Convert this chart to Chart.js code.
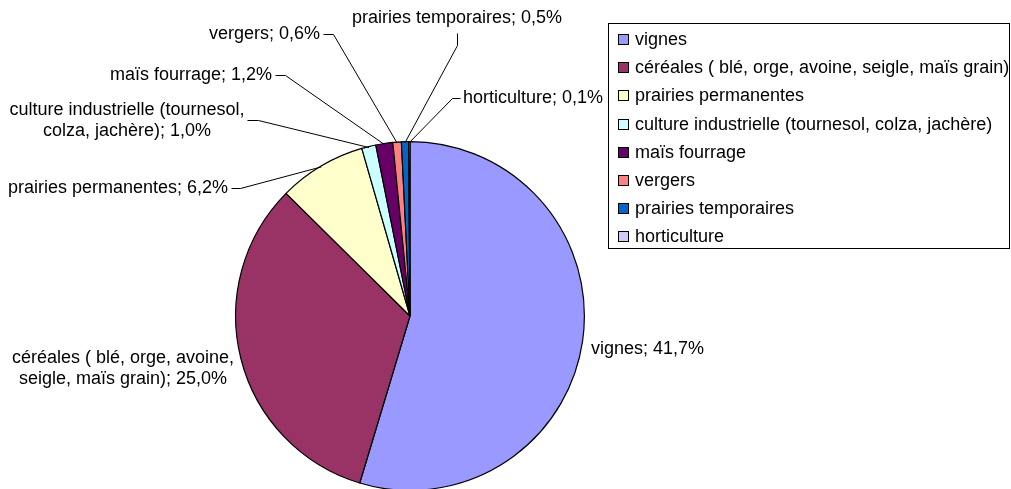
<!DOCTYPE html>
<html>
<head>
<meta charset="utf-8">
<script src="https://cdn.jsdelivr.net/npm/chart.js@4.4.1/dist/chart.umd.min.js"></script>
<style>
html,body{margin:0;padding:0;background:#fff;overflow:hidden;}
canvas{display:block;}
</style>
</head>
<body>
<canvas id="c" width="1011" height="495"></canvas>
<script>
// ---- data ----
const categories = ["vignes", "céréales ( blé, orge, avoine, seigle, maïs grain)", "prairies permanentes", "culture industrielle (tournesol, colza, jachère)", "maïs fourrage", "vergers", "prairies temporaires", "horticulture"];
const values = [41.7, 25.0, 6.2, 1.0, 1.2, 0.6, 0.5, 0.1];
const valueLabels = ["41,7%", "25,0%", "6,2%", "1,0%", "1,2%", "0,6%", "0,5%", "0,1%"];
const labelLines = [
  ["vignes; 41,7%"],
  ["céréales ( blé, orge, avoine,", "seigle, maïs grain); 25,0%"],
  ["prairies permanentes; 6,2%"],
  ["culture industrielle (tournesol,", "colza, jachère); 1,0%"],
  ["maïs fourrage; 1,2%"],
  ["vergers; 0,6%"],
  ["prairies temporaires; 0,5%"],
  ["horticulture; 0,1%"]
];
const colors = ["#9999FF", "#993366", "#FFFFCC", "#CCFFFF", "#660066", "#FF8080", "#0066CC", "#CCCCFF"];

// ---- label layout (relative to pie centre) ----
// text: [dx, dy, align], leader: [startDx, startDy, elbowDx, elbowDy] or null
const labelLayout = [
  {text:[181, 33, "left"], leader:null},
  {text:[-287, 42, "center"], leader:null},
  {text:[-182, -128, "right"], leader:[-179,-128,-170,-128]},
  {text:[-283, -206, "center"], leader:[-163,-196,-152,-196]},
  {text:[-138, -241, "right"], leader:[-135,-241,-125,-241]},
  {text:[-90, -282, "right"], leader:[-87,-282,-77,-282]},
  {text:[47, -298, "center"], leader:[47,-283,47,-271]},
  {text:[53, -218, "left"], leader:[50,-218,42,-218]}
];
const FONT = '18px "Liberation Sans", Arial, sans-serif';
const LINE_H = 21;

const labelPlugin = {
  id: 'labels',
  afterDraw(chart) {
    const ctx = chart.ctx;
    const meta = chart.getDatasetMeta(0);
    ctx.save();
    ctx.font = FONT;
    ctx.fillStyle = '#000';
    ctx.strokeStyle = '#000';
    ctx.lineWidth = 1;
    ctx.textBaseline = 'middle';
    meta.data.forEach((arc, i) => {
      const p = arc.getProps(['x','y','startAngle','endAngle','outerRadius'], true);
      const cx = p.x, cy = p.y;
      const L = labelLayout[i];
      if (L.leader) {
        const mid = (p.startAngle + p.endAngle) / 2;
        const ex = cx + Math.cos(mid) * (p.outerRadius - 1);
        const ey = cy + Math.sin(mid) * (p.outerRadius - 1);
        ctx.beginPath();
        ctx.moveTo(cx + L.leader[0] + 0.5, cy + L.leader[1] + 0.5);
        ctx.lineTo(cx + L.leader[2] + 0.5, cy + L.leader[3] + 0.5);
        ctx.lineTo(ex, ey);
        ctx.stroke();
      }
      ctx.textAlign = L.text[2];
      labelLines[i].forEach((t, k) => {
        ctx.fillText(t, cx + L.text[0], cy + L.text[1] + k * LINE_H);
      });
    });
    ctx.restore();
  }
};

const legendPlugin = {
  id: 'boxLegend',
  afterDraw(chart) {
    const ctx = chart.ctx;
    const bx = 608, by = 23, bw = 402, bh = 225;
    ctx.save();
    ctx.fillStyle = '#fff';
    ctx.fillRect(bx, by, bw, bh);
    ctx.strokeStyle = '#000';
    ctx.lineWidth = 1;
    ctx.strokeRect(bx + 0.5, by + 0.5, bw - 1, bh);
    ctx.font = FONT;
    ctx.textBaseline = 'middle';
    ctx.textAlign = 'left';
    categories.forEach((c, i) => {
      const y = by + 16 + i * 28.2;
      ctx.fillStyle = colors[i];
      ctx.fillRect(bx + 10, Math.round(y - 5), 10, 10);
      ctx.strokeRect(bx + 10.5, Math.round(y - 5) + 0.5, 10, 10);
      ctx.fillStyle = '#000';
      ctx.fillText(c, bx + 27, y + 1);
    });
    ctx.restore();
  }
};

new Chart(document.getElementById('c'), {
  type: 'pie',
  data: {
    labels: categories,
    datasets: [{
      data: values,
      backgroundColor: colors,
      borderColor: '#000',
      borderWidth: 1.2
    }]
  },
  options: {
    responsive: false,
    devicePixelRatio: 1,
    animation: false,
    layout: {padding: {left: 235, right: 426, top: 141, bottom: 4}},
    plugins: {
      legend: {display: false},
      tooltip: {enabled: false}
    }
  },
  plugins: [labelPlugin, legendPlugin]
});
</script>
</body>
</html>
